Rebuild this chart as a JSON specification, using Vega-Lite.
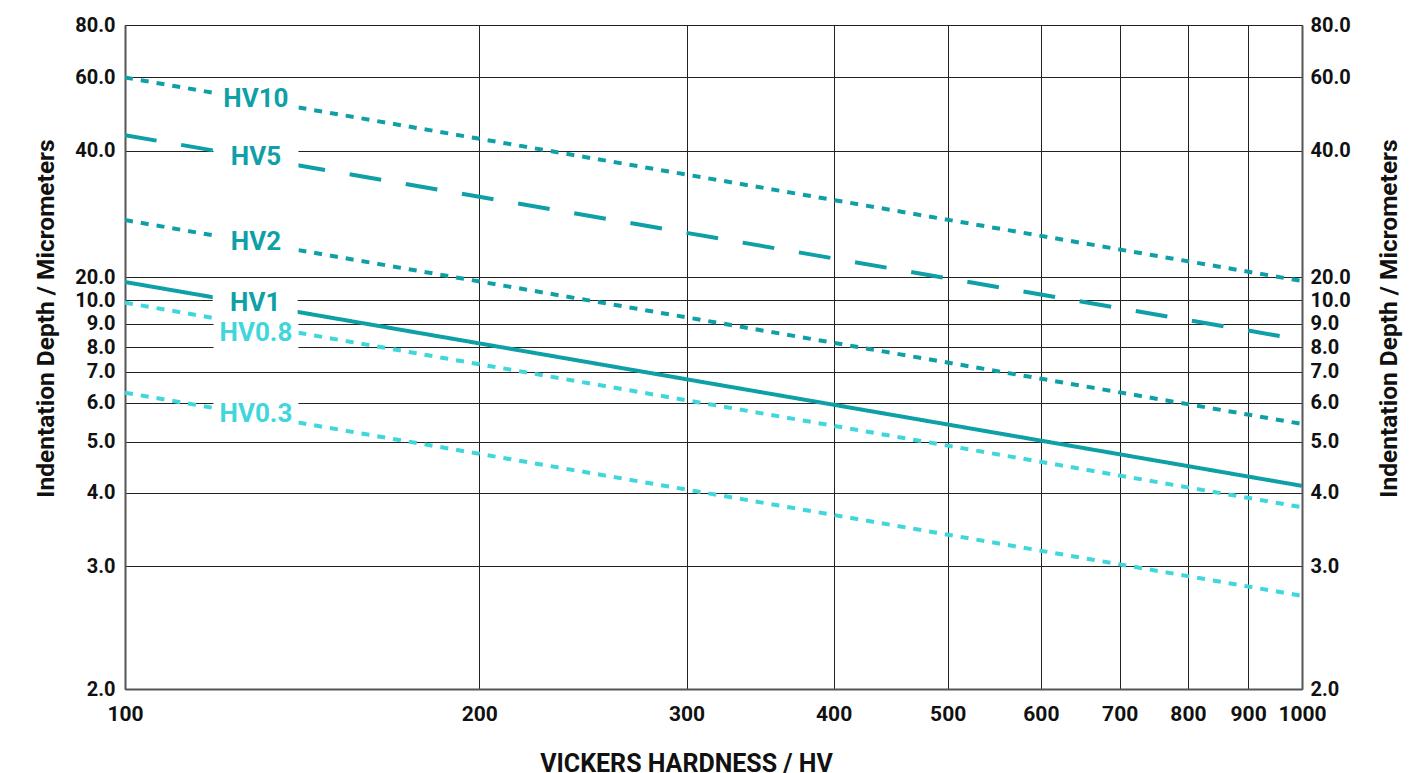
{
  "$schema": "https://vega.github.io/schema/vega-lite/v6.json",
  "width": 1177,
  "height": 664,
  "autosize": {"type": "none"},
  "padding": {"left": 125, "top": 25, "right": 124, "bottom": 84},
  "background": "white",
  "config": {
    "view": {"stroke": null},
    "font": "Roboto",
    "axis": {
      "labelFont": "Roboto",
      "titleFont": "Roboto",
      "labelFontWeight": "bold",
      "titleFontWeight": "bold",
      "labelColor": "#111",
      "titleColor": "#111",
      "ticks": false,
      "tickSize": 0,
      "gridColor": "#222",
      "gridOpacity": 1,
      "gridWidth": 1,
      "domainColor": "#555",
      "domainWidth": 2
    }
  },
  "datasets": {
    "lines": [
      {"series": "HV10", "hv": 100, "depth": 59.95},
      {"series": "HV10", "hv": 1000, "depth": 18.28},
      {"series": "HV5", "hv": 100, "depth": 44.2},
      {"series": "HV5", "hv": 1000, "depth": 8.3},
      {"series": "HV2", "hv": 100, "depth": 29.0},
      {"series": "HV2", "hv": 1000, "depth": 5.45},
      {"series": "HV1", "hv": 100, "depth": 17.85},
      {"series": "HV1", "hv": 1000, "depth": 4.13},
      {"series": "HV0.8", "hv": 100, "depth": 9.9},
      {"series": "HV0.8", "hv": 1000, "depth": 3.8},
      {"series": "HV0.3", "hv": 100, "depth": 6.32},
      {"series": "HV0.3", "hv": 1000, "depth": 2.76}
    ],
    "labels": [
      {"series": "HV10", "hv": 129.2, "depth": 54.4},
      {"series": "HV5", "hv": 129.2, "depth": 39.1},
      {"series": "HV2", "hv": 129.2, "depth": 25.7},
      {"series": "HV1", "hv": 129.0, "depth": 9.94},
      {"series": "HV0.8", "hv": 129.2, "depth": 8.65},
      {"series": "HV0.3", "hv": 129.2, "depth": 5.73}
    ]
  },
  "layer": [
    {
      "data": {"name": "lines"},
      "mark": {"type": "line", "strokeWidth": 4, "clip": true},
      "encoding": {
        "x": {
          "field": "hv",
          "type": "quantitative",
          "scale": {"type": "log", "domain": [100, 1000], "nice": false},
          "axis": {
            "values": [100, 200, 300, 400, 500, 600, 700, 800, 900, 1000],
            "format": "d",
            "title": "VICKERS HARDNESS / HV",
            "grid": true,
            "labelFontSize": 21,
            "labelPadding": 14,
            "labelBaseline": "top",
            "labelFlush": false,
            "labelOverlap": false,
            "titleFontSize": 25,
            "titleX": 561,
            "titleY": 82,
            "titleBaseline": "alphabetic",
            "titleAnchor": null
          }
        },
        "y": {
          "field": "depth",
          "type": "quantitative",
          "scale": {
            "type": "linear",
            "domain": [2, 3, 4, 5, 6, 7, 8, 9, 10, 20, 40, 60, 80],
            "range": [664.3, 541.3, 467.5, 416.5, 377.5, 346.7, 322, 298.5, 275.3, 252, 125.5, 52.3, 0],
            "nice": false,
            "zero": false
          },
          "axis": {
            "orient": "left",
            "values": [2, 3, 4, 5, 6, 7, 8, 9, 10, 20, 40, 60, 80],
            "format": ".1f",
            "title": "Indentation Depth / Micrometers",
            "grid": true,
            "labelFontSize": 20,
            "labelPadding": 10,
            "labelOverlap": false,
            "labelFlush": false,
            "titleFontSize": 24.5,
            "titleAngle": -90,
            "titleX": -72,
            "titleY": 293,
            "titleAlign": "center",
            "titleBaseline": "alphabetic",
            "titleAnchor": null
          }
        },
        "color": {
          "field": "series",
          "type": "nominal",
          "scale": {
            "domain": ["HV10", "HV5", "HV2", "HV1", "HV0.8", "HV0.3"],
            "range": ["#0ea0a6", "#0ea0a6", "#0ea0a6", "#0ea0a6", "#3fd6dc", "#3fd6dc"]
          },
          "legend": null
        },
        "strokeDash": {
          "field": "series",
          "type": "nominal",
          "scale": {
            "domain": ["HV10", "HV5", "HV2", "HV1", "HV0.8", "HV0.3"],
            "range": [[8, 8], [32, 25], [8, 8], [1, 0], [8, 8], [8, 8]]
          },
          "legend": null
        },
        "detail": {"field": "series"}
      }
    },
    {
      "data": {"name": "labels"},
      "mark": {
        "type": "point",
        "shape": "M-2.5,-1H2.5V1H-2.5Z",
        "size": 1156,
        "filled": true,
        "fill": "white",
        "opacity": 1,
        "strokeWidth": 0
      },
      "encoding": {
        "x": {"field": "hv", "type": "quantitative"},
        "y": {
          "field": "depth",
          "type": "quantitative",
          "axis": {
            "orient": "right",
            "values": [2, 3, 4, 5, 6, 7, 8, 9, 10, 20, 40, 60, 80],
            "format": ".1f",
            "title": "Indentation Depth / Micrometers",
            "grid": false,
            "labelFontSize": 20,
            "labelPadding": 8,
            "labelOverlap": false,
            "labelFlush": false,
            "titleFontSize": 24.5,
            "titleAngle": -90,
            "titleX": 94,
            "titleY": 293,
            "titleAlign": "center",
            "titleBaseline": "alphabetic",
            "titleAnchor": null
          }
        }
      }
    },
    {
      "data": {"name": "labels"},
      "mark": {
        "type": "text",
        "font": "Roboto",
        "fontWeight": "bold",
        "fontSize": 26,
        "align": "center",
        "baseline": "middle",
        "dy": 1
      },
      "encoding": {
        "x": {"field": "hv", "type": "quantitative"},
        "y": {"field": "depth", "type": "quantitative", "axis": null},
        "text": {"field": "series"},
        "color": {"field": "series", "type": "nominal", "legend": null}
      }
    }
  ],
  "resolve": {"axis": {"y": "independent"}}
}
